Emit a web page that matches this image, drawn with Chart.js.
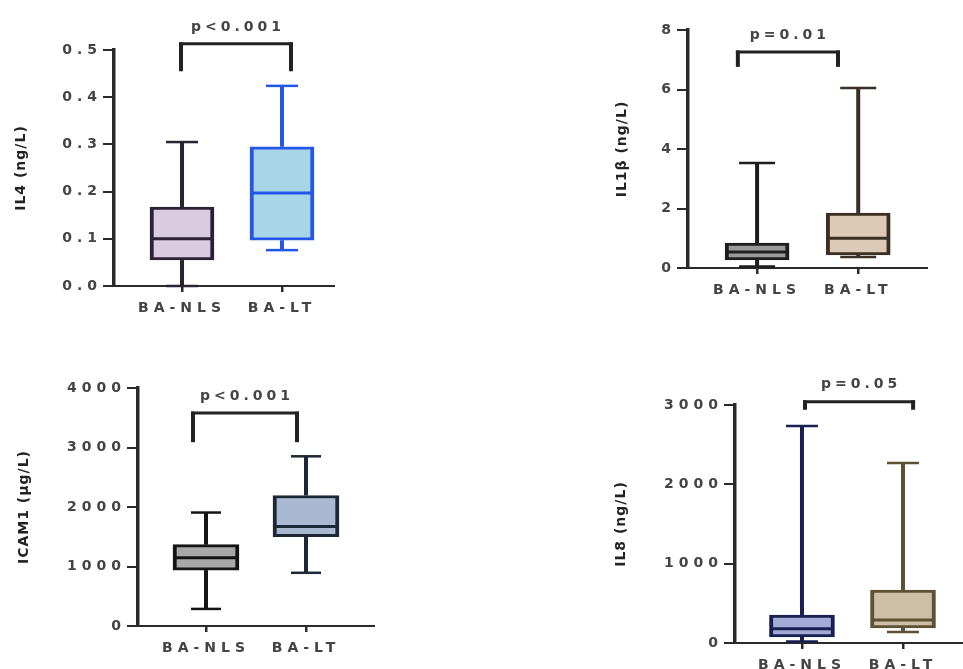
<!DOCTYPE html>
<html>
<head>
<meta charset="utf-8">
<script src="https://cdn.jsdelivr.net/npm/chart.js@4.4.0/dist/chart.umd.min.js"></script>
<style>
  html, body { margin: 0; padding: 0; background: #fff; }
  body { width: 963px; height: 669px; position: relative; overflow: hidden; }
  canvas { position: absolute; }
</style>
</head>
<body>
<canvas id="il4" width="335" height="326" style="left:0;top:0"></canvas>
<canvas id="il1b" width="328" height="308" style="left:600px;top:0"></canvas>
<canvas id="icam" width="375" height="336" style="left:0;top:330px"></canvas>
<canvas id="il8" width="363" height="353" style="left:600px;top:330px"></canvas>
<script>
// Grupos
const groups = ['BA-NLS', 'BA-LT'];

// IL4 (ng/L)
const il4Min = [0.0, 0.076];
const il4Q1 = [0.055, 0.097];
const il4Median = [0.100, 0.197];
const il4Q3 = [0.167, 0.295];
const il4Max = [0.305, 0.424];
const il4Ticks = [0, 0.1, 0.2, 0.3, 0.4, 0.5];

// IL1β (ng/L)
const il1bMin = [0.05, 0.37];
const il1bQ1 = [0.27, 0.44];
const il1bMedian = [0.54, 1.0];
const il1bQ3 = [0.84, 1.85];
const il1bMax = [3.53, 6.05];
const il1bTicks = [0, 2, 4, 6, 8];

// ICAM1 (μg/L)
const icamMin = [287, 894];
const icamQ1 = [940, 1502];
const icamMedian = [1148, 1671];
const icamQ3 = [1367, 2194];
const icamMax = [1907, 2852];
const icamTicks = [0, 1000, 2000, 3000, 4000];

// IL8 (ng/L)
const il8Min = [20, 139];
const il8Q1 = [76, 189];
const il8Median = [180, 290];
const il8Q3 = [353, 668];
const il8Max = [2736, 2270];
const il8Ticks = [0, 1000, 2000, 3000];

const pValues = ['p<0.001', 'p=0.01', 'p<0.001', 'p=0.05'];

const FONT = '"DejaVu Sans", "Liberation Sans", sans-serif';
const AXIS = '#2a2a2a';

function makePanel(p) {
    const canvas = document.getElementById(p.id);

    function line(ctx, x1, y1, x2, y2) {
        ctx.beginPath();
        ctx.moveTo(x1, y1);
        ctx.lineTo(x2, y2);
        ctx.stroke();
    }

    // bigotes, medianas, corchete y título
    const boxPlugin = {
        id: 'boxplot',
        beforeDraw(chart) {
            chart.ctx.letterSpacing = '5px';
        },
        afterDatasetsDraw(chart) {
            const ctx = chart.ctx;
            const x = chart.scales.x;
            const y = chart.scales.y;
            ctx.save();
            ctx.lineCap = 'butt';
            groups.forEach((g, i) => {
                const cx = x.getPixelForValue(i + 1);
                const half = p.boxWidth / 2;
                const yMax = y.getPixelForValue(p.max[i]);
                const yMin = y.getPixelForValue(p.min[i]);
                ctx.strokeStyle = p.stroke[i];
                ctx.lineWidth = 4;
                line(ctx, cx, y.getPixelForValue(p.q3[i]), cx, yMax);
                line(ctx, cx, y.getPixelForValue(p.q1[i]), cx, yMin);
                ctx.lineWidth = 2.5;
                line(ctx, cx - p.cap / 2, yMax, cx + p.cap / 2, yMax);
                line(ctx, cx - p.cap / 2, yMin, cx + p.cap / 2, yMin);
                const yMed = y.getPixelForValue(p.median[i]);
                ctx.lineWidth = 3;
                line(ctx, cx - half + 2, yMed, cx + half - 2, yMed);
            });

            // corchete de significancia
            const bx1 = x.getPixelForValue(p.bracket.x[0]);
            const bx2 = x.getPixelForValue(p.bracket.x[1]);
            const bTop = y.getPixelForValue(p.bracket.top);
            const bLeg = y.getPixelForValue(p.bracket.leg);
            ctx.strokeStyle = '#222';
            ctx.lineWidth = 4;
            line(ctx, bx1, bLeg, bx1, bTop - 1.5);
            line(ctx, bx2, bLeg, bx2, bTop - 1.5);
            ctx.lineWidth = 3;
            line(ctx, bx1 - 2, bTop, bx2 + 2, bTop);

            ctx.letterSpacing = '4px';
            ctx.font = 'bold 14px ' + FONT;
            ctx.fillStyle = '#444';
            ctx.textAlign = 'center';
            ctx.textBaseline = 'middle';
            ctx.fillText(p.p, (bx1 + bx2) / 2 + 2, bTop - 17);
            ctx.restore();
        },
        afterDraw(chart) {
            const ctx = chart.ctx;
            const area = chart.chartArea;
            ctx.save();
            ctx.letterSpacing = '1px';
            ctx.translate(p.titleX, (area.top + area.bottom) / 2);
            ctx.rotate(-Math.PI / 2);
            ctx.font = 'bold 14px ' + FONT;
            ctx.fillStyle = '#222';
            ctx.textAlign = 'center';
            ctx.textBaseline = 'middle';
            ctx.fillText(p.title, 0, 0);
            ctx.restore();
        }
    };

    const tickFont = { family: FONT, size: 14, weight: 'bold' };

    return new Chart(canvas, {
        type: 'bar',
        data: {
            datasets: [{
                data: groups.map((g, i) => ({ x: i + 1, y: [p.q1[i], p.q3[i]] })),
                backgroundColor: p.fill,
                borderColor: p.stroke,
                borderWidth: { left: 4, right: 4, top: 3, bottom: 3 },
                borderSkipped: false,
                barThickness: p.boxWidth
            }]
        },
        options: {
            responsive: false,
            animation: false,
            events: [],
            layout: { padding: { top: p.padTop, right: 0, left: 0, bottom: 0 } },
            plugins: {
                legend: { display: false },
                tooltip: { enabled: false }
            },
            scales: {
                x: {
                    type: 'linear',
                    min: p.xMin,
                    max: p.xMax,
                    offset: false,
                    afterBuildTicks: s => { s.ticks = groups.map((g, i) => ({ value: i + 1 })); },
                    afterFit: s => { s.height = 40; },
                    ticks: {
                        callback: v => groups[v - 1] || '',
                        color: '#444',
                        font: tickFont,
                        padding: 8,
                        maxRotation: 0,
                        autoSkip: false
                    },
                    grid: { display: true, drawOnChartArea: false, drawTicks: true, tickLength: 6, lineWidth: 2.5, color: AXIS, offset: false },
                    border: { display: true, width: 2, color: AXIS }
                },
                y: {
                    min: 0,
                    max: p.ticks[p.ticks.length - 1],
                    afterBuildTicks: s => { s.ticks = p.ticks.map(v => ({ value: v })); },
                    afterFit: s => { s.width = p.yWidth; },
                    ticks: {
                        callback: v => v.toFixed(p.decimals),
                        color: '#444',
                        font: tickFont,
                        padding: 1,
                        autoSkip: false
                    },
                    grid: { display: true, drawOnChartArea: false, drawTicks: true, tickLength: 11, lineWidth: 2, color: AXIS },
                    border: { display: true, width: 3.5, color: AXIS }
                }
            }
        },
        plugins: [boxPlugin]
    });
}

makePanel({
    id: 'il4', title: 'IL4 (ng/L)', p: pValues[0],
    min: il4Min, q1: il4Q1, median: il4Median, q3: il4Q3, max: il4Max, ticks: il4Ticks, decimals: 1,
    yWidth: 114, padTop: 50, xMin: 0.32, xMax: 2.53, titleX: 21,
    boxWidth: 64, cap: 32,
    bracket: { x: [0.99, 2.09], top: 0.513, leg: 0.455 },
    fill: ['#d9cbe0', '#a6d6e8'], stroke: ['#2b2233', '#2457e6']
});

makePanel({
    id: 'il1b', title: 'IL1β (ng/L)', p: pValues[1],
    min: il1bMin, q1: il1bQ1, median: il1bMedian, q3: il1bQ3, max: il1bMax, ticks: il1bTicks, decimals: 0,
    yWidth: 88, padTop: 30, xMin: 0.317, xMax: 2.69, titleX: 22,
    boxWidth: 64, cap: 36,
    bracket: { x: [0.81, 1.80], top: 7.26, leg: 6.76 },
    fill: ['#9a9a9a', '#dccab6'], stroke: ['#1e1e1e', '#3b2f24']
});

makePanel({
    id: 'icam', title: 'ICAM1 (μg/L)', p: pValues[2],
    min: icamMin, q1: icamQ1, median: icamMedian, q3: icamQ3, max: icamMax, ticks: icamTicks, decimals: 0,
    yWidth: 138, padTop: 58, xMin: 0.32, xMax: 2.69, titleX: 24,
    boxWidth: 66, cap: 30,
    bracket: { x: [0.87, 1.91], top: 3578, leg: 3089 },
    fill: ['#a8a8a8', '#a9b9d2'], stroke: ['#141414', '#1c2836']
});

makePanel({
    id: 'il8', title: 'IL8 (ng/L)', p: pValues[3],
    min: il8Min, q1: il8Q1, median: il8Median, q3: il8Q3, max: il8Max, ticks: il8Ticks, decimals: 0,
    yWidth: 135, padTop: 75, xMin: 0.337, xMax: 2.594, titleX: 21,
    boxWidth: 65, cap: 32,
    bracket: { x: [1.03, 2.10], top: 3040, leg: 2940 },
    fill: ['#a3abd6', '#cdbfa6'], stroke: ['#172050', '#5e5234']
});
</script>
</body>
</html>
